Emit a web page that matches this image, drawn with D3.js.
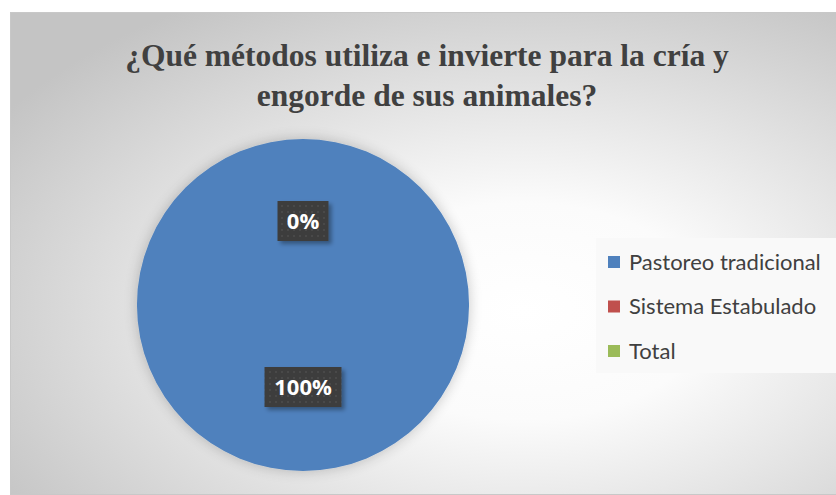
<!DOCTYPE html>
<html>
<head>
<meta charset="utf-8">
<script src="https://cdn.jsdelivr.net/npm/d3@7"></script>
<style>
  body { margin: 0; background: #fff; }
  svg { display: block; }
</style>
</head>
<body>
<svg></svg>
<script>
// data
let categories = ["Pastoreo tradicional", "Sistema Estabulado", "Total"]
let values = [100, 0, null]   // Total has no value, it only shows up in the legend
let colors = ["#4F81BD", "#C0504D", "#9BBB59"]
let titleLines = ["¿Qué métodos utiliza e invierte para la cría y", "engorde de sus animales?"]

let width = 836
let height = 495

let svg = d3.select('svg')
    .attr('width', width)
    .attr('height', height)

let defs = svg.append('defs')

// chart background: light radial gradient
let grad = defs.append('radialGradient')
    .attr('id', 'bg')
    .attr('cx', '62%').attr('cy', '62%').attr('r', '75%')
grad.append('stop').attr('offset', '0%').attr('stop-color', '#ffffff')
grad.append('stop').attr('offset', '30%').attr('stop-color', '#fbfbfb')
grad.append('stop').attr('offset', '100%').attr('stop-color', '#c4c4c4')

// soft shadow round the pie
let shadow = defs.append('filter').attr('id', 'shadow')
    .attr('x', '-20%').attr('y', '-20%').attr('width', '140%').attr('height', '140%')
shadow.append('feGaussianBlur').attr('in', 'SourceAlpha').attr('stdDeviation', 7)
shadow.append('feOffset').attr('dx', 0).attr('dy', 0).attr('result', 'blur')
shadow.append('feComponentTransfer').append('feFuncA').attr('type', 'linear').attr('slope', 0.22)
let merge = shadow.append('feMerge')
merge.append('feMergeNode')
merge.append('feMergeNode').attr('in', 'SourceGraphic')

// small shadow for the label boxes
let lblShadow = defs.append('filter').attr('id', 'lblShadow')
    .attr('x', '-30%').attr('y', '-30%').attr('width', '160%').attr('height', '160%')
lblShadow.append('feGaussianBlur').attr('in', 'SourceAlpha').attr('stdDeviation', 2)
lblShadow.append('feOffset').attr('dx', 3).attr('dy', 3)
lblShadow.append('feComponentTransfer').append('feFuncA').attr('type', 'linear').attr('slope', 0.35)
let m2 = lblShadow.append('feMerge')
m2.append('feMergeNode')
m2.append('feMergeNode').attr('in', 'SourceGraphic')

// dotted texture of the label boxes
let pat = defs.append('pattern').attr('id', 'dots')
    .attr('width', 6).attr('height', 6).attr('patternUnits', 'userSpaceOnUse')
pat.append('rect').attr('width', 6).attr('height', 6).attr('fill', '#3d3d3d')
pat.append('circle').attr('cx', 3).attr('cy', 3).attr('r', 1).attr('fill', '#4c4c4c')

svg.append('rect')
    .attr('x', 10.5).attr('y', 12.5)
    .attr('width', width - 10).attr('height', height - 13)
    .attr('fill', 'url(#bg)')
    .attr('stroke', '#c8c8c8')

// title
svg.append('g').selectAll('text')
    .data(titleLines)
    .join('text')
    .attr('x', 427)
    .attr('y', (d, i) => 66 + i * 40)
    .attr('text-anchor', 'middle')
    .attr('font-family', '"Liberation Serif", "Times New Roman", serif')
    .attr('font-weight', 'bold')
    .attr('font-size', 31.5)
    .attr('fill', '#404040')
    .text(d => d)

// pie
let cx = 303
let cy = 305
let radius = 166

let pie = d3.pie().sort(null).value(d => d.value || 0)
let slices = pie(categories.map((c, i) => ({ name: c, value: values[i], color: colors[i] })))

let arc = d3.arc().innerRadius(0).outerRadius(radius)
let labelArc = d3.arc().innerRadius(0).outerRadius(radius)

let pieG = svg.append('g').attr('transform', `translate(${cx},${cy})`)

pieG.append('g').attr('filter', 'url(#shadow)')
    .selectAll('path')
    .data(slices)
    .join('path')
    .attr('d', arc)
    .attr('fill', d => d.data.color)

// data labels
let fmt = d3.format('.0%')
let labels = pieG.selectAll('g.lbl')
    .data(slices.filter(d => d.data.value !== null))
    .join('g')
    .attr('class', 'lbl')
    .attr('transform', d => {
        let c = labelArc.centroid(d)
        return `translate(${c[0]},${c[1] - 1})`
    })

labels.each(function (d) {
    let g = d3.select(this)
    let t = fmt(d.data.value / 100)
    let w = t.length * 13 + 25
    g.append('rect')
        .attr('x', -w / 2).attr('y', -20)
        .attr('width', w).attr('height', 40)
        .attr('fill', 'url(#dots)')
        .attr('filter', 'url(#lblShadow)')
    g.append('text')
        .attr('text-anchor', 'middle')
        .attr('dy', '0.36em')
        .attr('font-family', '"Open Sans", sans-serif')
        .attr('font-weight', 'bold')
        .attr('font-size', 22)
        .attr('fill', '#ffffff')
        .text(t)
})

// legend
let legend = svg.append('g')
legend.append('rect')
    .attr('x', 596).attr('y', 238)
    .attr('width', 240).attr('height', 135)
    .attr('fill', '#f9f9f9')

let items = legend.selectAll('g.item')
    .data(categories)
    .join('g')
    .attr('class', 'item')
    .attr('transform', (d, i) => `translate(608, ${262 + i * 44.5})`)

items.append('rect')
    .attr('x', 0).attr('y', -6)
    .attr('width', 12).attr('height', 12)
    .attr('fill', (d, i) => colors[i])

items.append('text')
    .attr('x', 21)
    .attr('dy', '0.36em')
    .attr('font-family', 'Lato, "Open Sans", sans-serif')
    .attr('font-size', 22)
    .attr('fill', '#404040')
    .text(d => d)
</script>
</body>
</html>
